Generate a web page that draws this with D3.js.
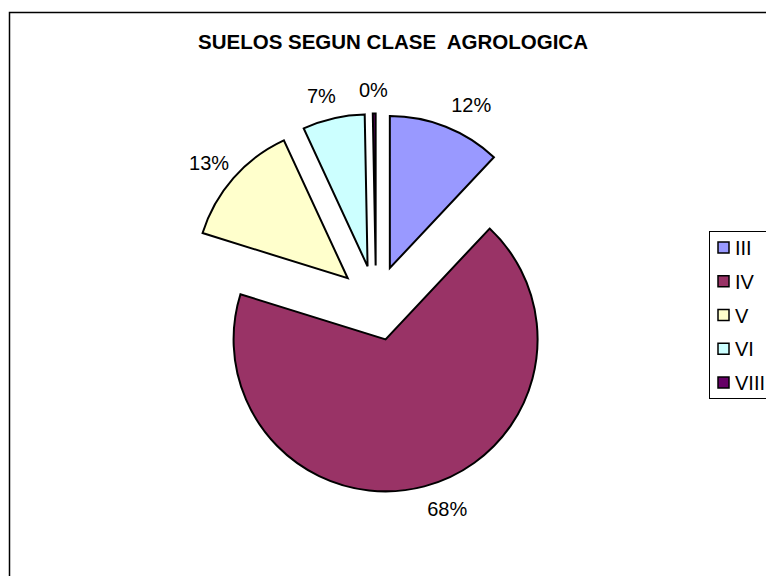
<!DOCTYPE html>
<html>
<head>
<meta charset="utf-8">
<script src="https://cdn.jsdelivr.net/npm/d3@7"></script>
<style>
  body { margin: 0; background: #fff; }
  svg { display: block; font-family: "Liberation Sans", Arial, sans-serif; }
</style>
</head>
<body>
<svg id="chart" width="766" height="576"></svg>
<script>
// soil classes and their share (percent)
var classes = ["III", "IV", "V", "VI", "VIII"];
var shares  = [12.0, 67.8, 13.3, 6.6, 0.3];
var colors  = ["#9999FF", "#993366", "#FFFFCC", "#CCFFFF", "#660066"];
var title   = "SUELOS SEGUN CLASE  AGROLOGICA";

var svg = d3.select("#chart");

var cx = 376, cy = 303;      // pie centre
var radius = 152;
var explode = 37.6;          // every slice pulled out
var labelR = 175;

// outer frame (right and bottom fall outside the picture)
svg.append("rect")
   .attr("x", 9.5).attr("y", 12.5)
   .attr("width", 900).attr("height", 700)
   .attr("fill", "#fff")
   .attr("stroke", "#000")
   .attr("stroke-width", 1.5);

svg.append("text")
   .attr("x", 393).attr("y", 49)
   .attr("text-anchor", "middle")
   .attr("font-weight", "bold")
   .attr("font-size", "20.5px")
   .style("white-space", "pre")
   .text(title);

var pie = d3.pie().sort(null).value(d => d);
var arcs = pie(shares);

var arc = d3.arc().innerRadius(0).outerRadius(radius);

function dir(d) {
    var a = (d.startAngle + d.endAngle) / 2;
    return [Math.sin(a), -Math.cos(a)];
}

function offset(d, dist) {
    var u = dir(d);
    return [u[0] * dist, u[1] * dist];
}

// label sits outside the rim, pushed sideways a bit like excel does
function labelPos(d) {
    var u = dir(d), o = offset(d, explode);
    var side = Math.min(1, Math.abs(u[0]) * 10) * (u[0] > 0 ? 17 : -7);
    return [o[0] + u[0] * labelR + side, o[1] + u[1] * labelR];
}

var g = svg.append("g").attr("transform", "translate(" + cx + "," + cy + ")");

g.selectAll("path.slice")
 .data(arcs)
 .enter()
 .append("path")
 .attr("class", "slice")
 .attr("transform", d => "translate(" + offset(d, explode) + ")")
 .attr("d", arc)
 .attr("fill", (d, i) => colors[i])
 .attr("stroke", "#000")
 .attr("stroke-width", 2)
 .attr("stroke-linejoin", "miter");

// percent labels
g.selectAll("text.pct")
 .data(arcs)
 .enter()
 .append("text")
 .attr("class", "pct")
 .attr("x", d => labelPos(d)[0])
 .attr("y", d => labelPos(d)[1])
 .attr("dy", "0.35em")
 .attr("text-anchor", "middle")
 .attr("font-size", "20px")
 .text(d => Math.round(d.value) + "%");

// legend
var legend = svg.append("g").attr("transform", "translate(709,231)");

legend.append("rect")
      .attr("x", 0.5).attr("y", 0.5)
      .attr("width", 120).attr("height", 167)
      .attr("fill", "#fff")
      .attr("stroke", "#000")
      .attr("stroke-width", 1);

var rowY = d3.scalePoint().domain(classes).range([17, 152]);

var items = legend.selectAll("g.item")
                  .data(classes)
                  .enter()
                  .append("g")
                  .attr("class", "item")
                  .attr("transform", d => "translate(0," + rowY(d) + ")");

items.append("rect")
     .attr("x", 9).attr("y", -6)
     .attr("width", 11).attr("height", 11)
     .attr("fill", (d, i) => colors[i])
     .attr("stroke", "#000")
     .attr("stroke-width", 1.5);

items.append("text")
     .attr("x", 26)
     .attr("dy", "0.35em")
     .attr("font-size", "20px")
     .text(d => d);
</script>
</body>
</html>
